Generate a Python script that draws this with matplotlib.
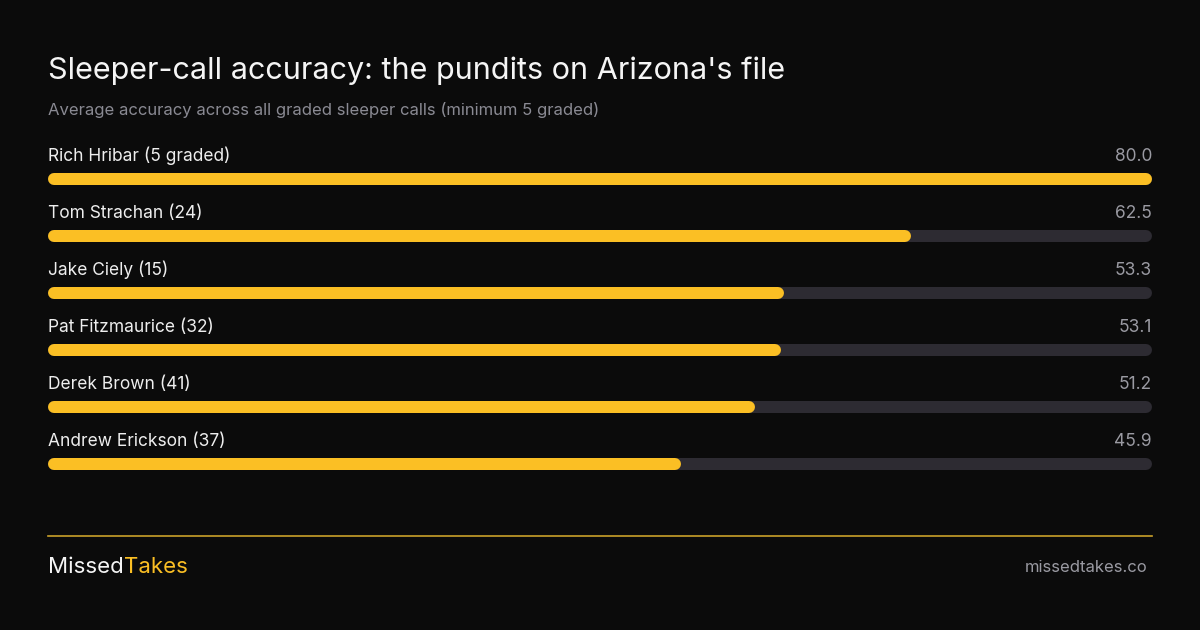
import matplotlib
matplotlib.use("Agg")
import matplotlib.pyplot as plt

names = ["Rich Hribar (5 graded)", "Tom Strachan (24)", "Jake Ciely (15)",
         "Pat Fitzmaurice (32)", "Derek Brown (41)", "Andrew Erickson (37)"]
values = [80.0, 62.5, 53.3, 53.1, 51.2, 45.9]

BG = "#0b0b0b"; TRACK = "#2d2b32"; BAR = "#fbbf24"
plt.rcParams['font.family'] = ['Inter', 'DejaVu Sans']
W, H = 1200, 630
fig = plt.figure(figsize=(12, 6.3), dpi=100, facecolor=BG)

fig.text(48/W, 1-71/H, "Sleeper-call accuracy: the pundits on Arizona's file",
         color="#f5f5f5", fontsize=22, va="center", ha="left")
fig.text(48/W, 1-110/H, "Average accuracy across all graded sleeper calls (minimum 5 graded)",
         color="#8a8a93", fontsize=12, va="center", ha="left")

top, bottom = 150.5, 492.5
ax = fig.add_axes([48/W, 1-bottom/H, 1104/W, (bottom-top)/H])
ax.set_facecolor(BG)
ax.axis("off")
vmax = max(values)
ax.set_xlim(0, vmax)
ax.set_ylim(len(values)-0.5, -0.5)
lw = 12*0.72
r = 6/1104*vmax
for i, (n, v) in enumerate(zip(names, values)):
    ax.plot([r, vmax-r], [i, i], color=TRACK, lw=lw, solid_capstyle="round")
    ax.plot([r, v-r], [i, i], color=BAR, lw=lw, solid_capstyle="round")
    ax.text(0, i-0.40, n, color="#eeeeee", fontsize=12.5, va="center", ha="left")
    ax.text(vmax, i-0.40, f"{v:.1f}", color="#9a9aa2", fontsize=12.5, va="center", ha="right")

fig.add_artist(plt.Line2D([48/W, 1152/W], [1-536/H]*2, color="#c9a12a", lw=1.2))
t1 = fig.text(48/W, 1-567/H, "Missed", color="#f5f5f5", fontsize=16, va="center", ha="left")
fig.canvas.draw()
bb = t1.get_window_extent()
fig.text(bb.x1/W, 1-567/H, "Takes", color=BAR, fontsize=16, va="center", ha="left")
fig.text(1148/W, 1-567/H, "missedtakes.co", color="#9a9aa2", fontsize=12, va="center", ha="right")

fig.savefig("out.png", dpi=100, facecolor=BG)
